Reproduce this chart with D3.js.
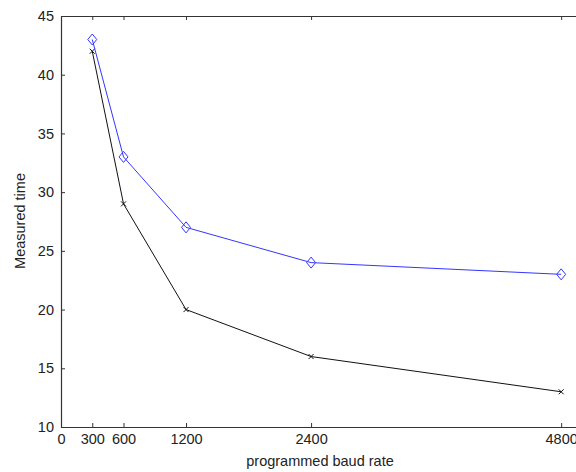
<!DOCTYPE html>
<html>
<head>
<meta charset="utf-8">
<script src="https://cdn.jsdelivr.net/npm/d3@7"></script>
<style>
  html, body { margin: 0; padding: 0; background: #fff; }
  svg { display: block; font-family: "Liberation Sans", Arial, sans-serif; }
</style>
</head>
<body>
<svg id="chart" width="576" height="472"></svg>
<script>
// Baud rate settings on the x axis
const baudRates = [300, 600, 1200, 2400, 4800];
// Measured time for each series
const seriesBlue = [43, 33, 27, 24, 23];
const seriesBlack = [42, 29, 20, 16, 13];
// Tick values
const xTicks = [0, 300, 600, 1200, 2400, 4800];
const yTicks = [10, 15, 20, 25, 30, 35, 40, 45];

const svg = d3.select("#chart");
const plotLeft = 61, plotRight = 582, plotTop = 16, plotBottom = 427;

const x = d3.scaleLinear().domain([0, 5000]).range([plotLeft, plotRight]);
const y = d3.scaleLinear().domain([10, 45]).range([plotBottom, plotTop]);

const axisColor = "#333";
const textColor = "#222";
const tickFontSize = 14.5;

// Top frame line
svg.append("line").attr("x1", plotLeft).attr("x2", plotRight)
  .attr("y1", plotTop + 0.5).attr("y2", plotTop + 0.5)
  .attr("stroke", axisColor).attr("stroke-width", 1.2);

// Bottom axis
const gx = svg.append("g").attr("transform", `translate(0,${plotBottom})`)
  .call(d3.axisBottom(x).tickValues(xTicks).tickFormat(d3.format("d"))
    .tickSize(-4).tickPadding(7).tickSizeOuter(0));
gx.select(".domain").attr("stroke", axisColor).attr("stroke-width", 1.2);
gx.selectAll(".tick line").attr("stroke", axisColor);
gx.selectAll(".tick text").attr("font-size", tickFontSize).attr("fill", textColor)
  .attr("font-family", "'Liberation Sans', Arial, sans-serif");

// Top mirrored ticks
const gxt = svg.append("g").attr("transform", `translate(0,${plotTop})`)
  .call(d3.axisTop(x).tickValues(xTicks).tickSize(-4).tickFormat("").tickSizeOuter(0));
gxt.select(".domain").remove();
gxt.selectAll(".tick line").attr("stroke", axisColor);

// Left axis
const gy = svg.append("g").attr("transform", `translate(${plotLeft},0)`)
  .call(d3.axisLeft(y).tickValues(yTicks).tickFormat(d3.format("d"))
    .tickSize(-4).tickPadding(7).tickSizeOuter(0));
gy.select(".domain").attr("stroke", axisColor).attr("stroke-width", 1.2);
gy.selectAll(".tick line").attr("stroke", axisColor);
gy.selectAll(".tick text").attr("font-size", tickFontSize).attr("fill", textColor)
  .attr("font-family", "'Liberation Sans', Arial, sans-serif");

// Axis titles
svg.append("text").attr("x", 320).attr("y", 466).attr("text-anchor", "middle")
  .attr("font-size", 14.5).attr("fill", textColor).text("programmed baud rate");
svg.append("text").attr("transform", `translate(25,221) rotate(-90)`)
  .attr("text-anchor", "middle").attr("font-size", 14.5).attr("fill", textColor).text("Measured time");

const line = d3.line().x((d, i) => x(baudRates[i])).y(d => y(d));

// Black series with x markers
svg.append("path").datum(seriesBlack).attr("d", line)
  .attr("fill", "none").attr("stroke", "#111").attr("stroke-width", 1);
svg.selectAll(".xmark").data(seriesBlack).enter().append("path")
  .attr("class", "xmark")
  .attr("transform", (d, i) => `translate(${x(baudRates[i])},${y(d)})`)
  .attr("d", "M-2.5,-2.5L2.5,2.5M-2.5,2.5L2.5,-2.5").attr("stroke", "#111").attr("stroke-width", 1);

// Blue series with diamond markers
svg.append("path").datum(seriesBlue).attr("d", line)
  .attr("fill", "none").attr("stroke", "#3535ff").attr("stroke-width", 1);
svg.selectAll(".dmark").data(seriesBlue).enter().append("path")
  .attr("class", "dmark")
  .attr("transform", (d, i) => `translate(${x(baudRates[i])},${y(d)})`)
  .attr("d", "M0,-5.5L4.5,0L0,5.5L-4.5,0Z").attr("fill", "none").attr("stroke", "#3535ff").attr("stroke-width", 1);
</script>
</body>
</html>
